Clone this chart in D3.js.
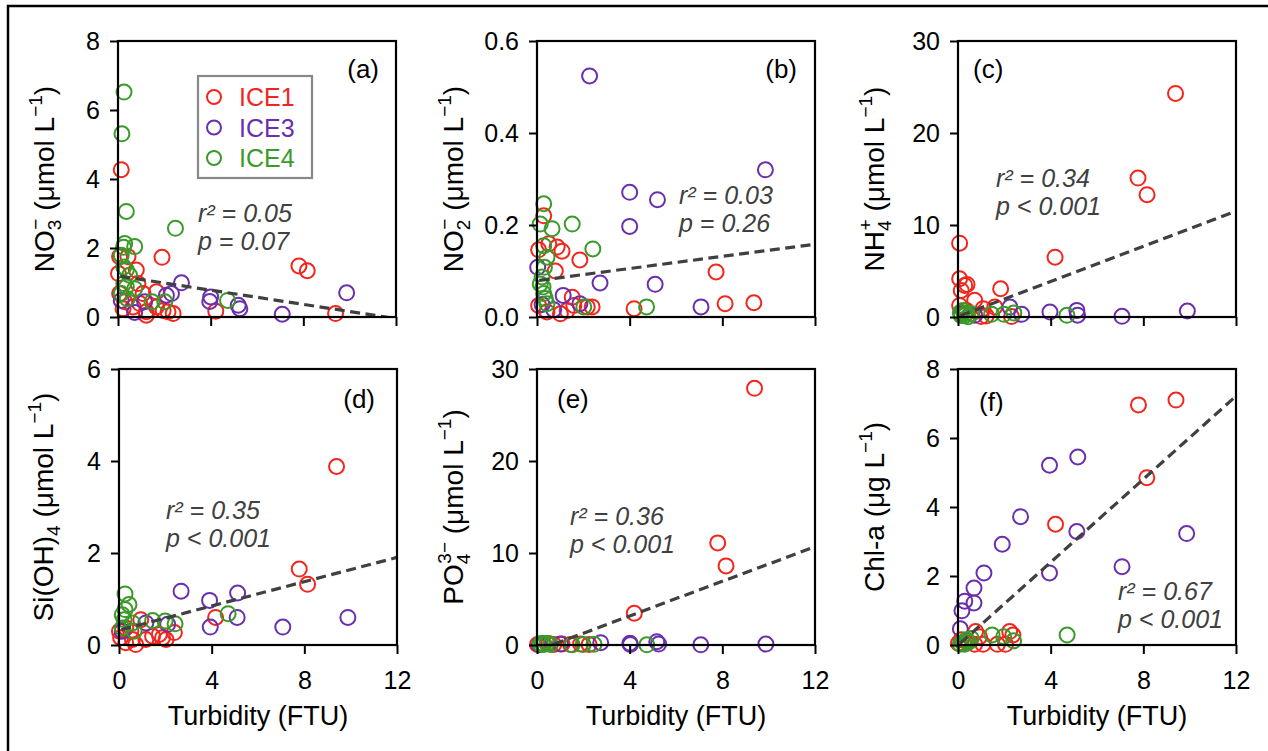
<!DOCTYPE html>
<html><head><meta charset="utf-8">
<script src="https://cdn.jsdelivr.net/npm/d3@7"></script>
<style>
html,body{margin:0;padding:0;background:#fff;}
svg{display:block;font-family:"Liberation Sans",Arial,sans-serif;}
</style></head>
<body><svg id="chart" width="1268" height="751"></svg>
<script>
// ---------- data ----------
const seriesNames = ["ICE1", "ICE3", "ICE4"];
const seriesColors = ["#f2261c", "#6a2fae", "#3a9a2a"];
const panelLetters = ["(a)", "(b)", "(c)", "(d)", "(e)", "(f)"];
const xTicks = [0, 4, 8, 12];

const yTicksA = [0, 2, 4, 6, 8];
const yTicksB = [0, 0.2, 0.4, 0.6];
const yTicksC = [0, 10, 20, 30];
const yTicksD = [0, 2, 4, 6];
const yTicksE = [0, 10, 20, 30];
const yTicksF = [0, 2, 4, 6, 8];

const statsR2 = ["0.05", "0.03", "0.34", "0.35", "0.36", "0.67"];
const statsP = ["= 0.07", "= 0.26", "< 0.001", "< 0.001", "< 0.001", "< 0.001"];
// regression [intercept, slope]
const fitA = [1.19, -0.103];
const fitB = [0.079, 0.0066];
const fitC = [0.05, 0.955];
const fitD = [0.32, 0.132];
const fitE = [-0.6, 0.94];
const fitF = [-0.01, 0.602];

// (a) NO3-
const a_ICE1 = [[0.14,4.27],[1.90,1.73],[7.81,1.48],[8.17,1.34],[9.39,0.10],[4.22,0.17],[2.38,0.10],[2.16,0.15],[0.07,1.75],[0.43,1.75],[0.79,1.36],[0.02,1.26],[0.86,0.97],[0.07,0.68],[1.08,0.68],[1.66,0.73],[0.29,0.44],[0.94,0.39],[1.22,0.15],[1.66,0.29],[0.22,0.24],[1.22,0.05],[1.95,0.19],[0.65,0.29]];
const a_ICE3 = [[9.87,0.70],[2.74,0.99],[3.96,0.45],[4.00,0.58],[5.19,0.34],[5.26,0.24],[7.09,0.08],[2.31,0.68],[0.72,0.13],[0.14,0.48],[1.15,0.44],[2.09,0.63]];
const a_ICE4 = [[0.26,6.52],[0.17,5.31],[0.36,3.06],[2.48,2.57],[0.29,2.13],[0.24,2.02],[0.72,2.04],[0.14,1.79],[0.25,1.45],[0.36,1.36],[0.50,1.21],[0.25,0.97],[0.36,0.87],[0.72,0.82],[0.14,0.68],[0.40,0.53],[1.47,0.44],[2.02,0.44],[4.73,0.48]];

// (b) NO2-
const b_ICE1 = [[7.73,0.098],[8.12,0.029],[9.36,0.031],[4.19,0.018],[1.85,0.124],[0.29,0.220],[0.07,0.146],[0.87,0.152],[1.08,0.143],[0.79,0.100],[0.51,0.159],[0.07,0.025],[1.01,0.007],[1.30,0.014],[1.59,0.025],[2.17,0.022],[2.38,0.022],[0.43,0.011],[1.52,0.043]];
const b_ICE3 = [[2.27,0.524],[4.00,0.271],[4.00,0.197],[5.20,0.255],[9.86,0.320],[2.72,0.074],[5.10,0.071],[7.08,0.022],[1.13,0.047],[0.03,0.108],[0.22,0.027],[0.72,0.016],[1.85,0.029]];
const b_ICE4 = [[0.29,0.246],[0.14,0.202],[0.65,0.192],[1.52,0.202],[2.41,0.148],[0.29,0.155],[0.43,0.130],[0.32,0.108],[0.22,0.087],[0.14,0.072],[0.29,0.051],[0.36,0.040],[0.43,0.029],[2.02,0.022],[4.73,0.022],[0.26,0.065]];

// (c) NH4+
const c_ICE1 = [[9.39,24.3],[7.77,15.1],[8.16,13.3],[4.19,6.5],[1.84,3.07],[0.07,8.02],[0.07,4.16],[0.29,3.43],[0.39,3.54],[0.14,2.89],[0.72,1.81],[0.07,1.26],[0.36,0.72],[1.08,0.90],[1.59,1.08],[2.31,0.05],[1.00,0.05],[1.22,0.10]];
const c_ICE3 = [[9.90,0.65],[7.08,0.07],[5.13,0.72],[5.16,0.20],[3.97,0.54],[2.75,0.29],[2.24,1.08],[0.72,0.18],[0.14,0.36]];
const c_ICE4 = [[4.70,0.18],[1.45,0.29],[1.98,0.29],[2.41,0.43],[0.14,0.15],[0.29,0.15],[0.43,0.02],[0.58,0.36],[0.22,0.70],[0.36,0.40],[0.10,0.50]];

// (d) Si(OH)4
const d_ICE1 = [[9.39,3.88],[7.78,1.65],[8.14,1.32],[4.17,0.60],[0.02,0.30],[0.07,0.16],[0.29,0.05],[0.72,0.01],[0.94,0.55],[1.45,0.19],[1.74,0.23],[2.03,0.12],[2.39,0.27],[1.88,0.16],[1.16,0.12],[0.29,0.37],[0.51,0.30],[0.58,0.12]];
const d_ICE3 = [[9.88,0.60],[7.07,0.39],[5.12,1.13],[5.10,0.60],[3.91,0.97],[3.94,0.39],[2.68,1.17],[2.10,0.45],[1.16,0.48],[0.14,0.30]];
const d_ICE4 = [[0.26,1.11],[0.43,0.88],[0.26,0.77],[0.14,0.66],[0.22,0.55],[0.58,0.48],[0.14,0.37],[0.65,0.30],[1.45,0.53],[1.99,0.52],[2.42,0.46],[4.71,0.68]];

// (e) PO4 3-
const e_ICE1 = [[9.39,27.9],[7.80,11.1],[8.16,8.6],[4.20,3.45],[0.02,0.05],[0.29,0.10],[0.72,0.05],[1.08,0.10],[1.45,0.05],[1.88,0.10],[2.25,0.05],[0.50,0.15]];
const e_ICE3 = [[4.01,0.20],[4.03,0.05],[5.17,0.36],[5.25,0.10],[7.07,0.02],[9.88,0.10],[2.75,0.25],[1.01,0.10],[0.10,0.02]];
const e_ICE4 = [[4.74,0.02],[1.52,0.02],[1.99,0.05],[2.46,0.07],[0.14,0.10],[0.29,0.05],[0.43,0.15],[0.58,0.05],[0.22,0.20]];

// (f) Chl-a
const f_ICE1 = [[7.79,6.96],[9.41,7.10],[8.15,4.85],[4.21,3.50],[0.76,0.39],[0.93,0.24],[0.72,0.02],[1.08,0.02],[1.70,0.02],[2.05,0.02],[2.23,0.39],[2.37,0.29],[0.14,0.15],[0.02,0.05],[0.40,0.10]];
const f_ICE3 = [[3.95,5.21],[5.17,5.45],[2.70,3.72],[1.91,2.92],[1.12,2.09],[0.69,1.65],[0.69,1.22],[0.29,1.27],[0.17,0.99],[0.10,0.47],[3.95,2.09],[5.13,3.29],[7.08,2.27],[9.87,3.23]];
const f_ICE4 = [[4.71,0.29],[1.47,0.29],[1.97,0.24],[2.40,0.12],[0.57,0.19],[0.36,0.15],[0.22,0.05],[0.10,0.02],[0.29,0.02],[0.45,0.08]];

// ---------- layout ----------
const W = 278, H = 276;
const panels = [
  {left:118, top:41, data:[a_ICE1,a_ICE3,a_ICE4], yt:yTicksA, ymax:8, fmt:d3.format("d"), fit:fitA, ylab:"a", tx:198, ty:222, lx:379, ly:78, lanchor:"end", yoff:64, xlab:false},
  {left:537, top:41, data:[b_ICE1,b_ICE3,b_ICE4], yt:yTicksB, ymax:0.6, fmt:d3.format(".1f"), fit:fitB, ylab:"b", tx:679, ty:204, lx:797, ly:78, lanchor:"end", yoff:74, xlab:false},
  {left:958, top:41, data:[c_ICE1,c_ICE3,c_ICE4], yt:yTicksC, ymax:30, fmt:d3.format("d"), fit:fitC, ylab:"c", tx:996, ty:187, lx:973, ly:78, lanchor:"start", yoff:74, xlab:false},
  {left:119, top:369, data:[d_ICE1,d_ICE3,d_ICE4], yt:yTicksD, ymax:6, fmt:d3.format("d"), fit:fitD, ylab:"d", tx:166, ty:519, lx:375, ly:408, lanchor:"end", yoff:66, xlab:true},
  {left:537, top:369, data:[e_ICE1,e_ICE3,e_ICE4], yt:yTicksE, ymax:30, fmt:d3.format("d"), fit:fitE, ylab:"e", tx:570, ty:525, lx:557, ly:408, lanchor:"start", yoff:74, xlab:true},
  {left:958, top:369, data:[f_ICE1,f_ICE3,f_ICE4], yt:yTicksF, ymax:8, fmt:d3.format("d"), fit:fitF, ylab:"f", tx:1118, ty:600, lx:979, ly:411, lanchor:"start", yoff:74, xlab:true}
];

const svg = d3.select("#chart");
// outer frame (clipped by the viewport at right/bottom)
svg.append("rect").attr("x", 8).attr("y", 6).attr("width", 1300).attr("height", 800)
  .attr("fill", "none").attr("stroke", "#000").attr("stroke-width", 2.5);

function yTitle(g, key) {
  const t = g.append("text").attr("font-size", 28).attr("fill", "#000").attr("text-anchor", "middle");
  const sub = (s) => t.append("tspan").attr("font-size", 19).attr("dy", 7).text(s);
  const back = (s, dx, dy) => t.append("tspan").attr("font-size", 19).attr("dx", dx).attr("dy", dy).text(s);
  const norm = (s, dy) => t.append("tspan").attr("dy", dy || 0).text(s);
  const unitsMol = (dy) => { norm(" (μmol L", dy); t.append("tspan").attr("font-size", 19).attr("dy", -12).text("−1"); norm(")", 12); };
  if (key === "a") { norm("NO"); sub("3"); back("−", -10, -19); unitsMol(12); }
  if (key === "b") { norm("NO"); sub("2"); back("−", -10, -19); unitsMol(12); }
  if (key === "c") { norm("NH"); sub("4"); back("+", -10, -19); unitsMol(12); }
  if (key === "d") { norm("Si(OH)"); sub("4"); unitsMol(-7); }
  if (key === "e") { norm("PO"); sub("4"); back("3−", -10, -19); unitsMol(12); }
  if (key === "f") { norm("Chl-a (μg L"); t.append("tspan").attr("font-size", 19).attr("dy", -12).text("−1"); norm(")", 12); }
  return t;
}

panels.forEach((p, i) => {
  const x = d3.scaleLinear().domain([0, 12]).range([p.left, p.left + W]);
  const y = d3.scaleLinear().domain([0, p.ymax]).range([p.top + H, p.top]);
  const g = svg.append("g");

  const clipId = "clip" + i;
  svg.append("clipPath").attr("id", clipId).append("rect")
    .attr("x", p.left).attr("y", p.top).attr("width", W).attr("height", H);

  // points
  p.data.forEach((arr, s) => {
    g.append("g").selectAll("circle").data(arr).join("circle")
      .attr("cx", d => x(d[0])).attr("cy", d => y(d[1])).attr("r", 7.5)
      .attr("fill", "none").attr("stroke", seriesColors[s]).attr("stroke-width", 2);
  });

  // regression line
  const xs = [0.1, 12];
  g.append("line").attr("clip-path", `url(#${clipId})`)
    .attr("x1", x(xs[0])).attr("y1", y(p.fit[0] + p.fit[1] * xs[0]))
    .attr("x2", x(xs[1])).attr("y2", y(p.fit[0] + p.fit[1] * xs[1]))
    .attr("stroke", "#404040").attr("stroke-width", 3.2).attr("stroke-dasharray", "10,5.5");

  // axes
  const yAxis = d3.axisLeft(y).tickValues(p.yt).tickFormat(p.fmt).tickSize(8).tickPadding(10).tickSizeOuter(0);
  const ya = g.append("g").attr("transform", `translate(${p.left},0)`).call(yAxis);
  const xAxis = d3.axisBottom(x).tickValues(xTicks).tickSize(9).tickPadding(17).tickSizeOuter(0)
    .tickFormat(p.xlab ? d3.format("d") : () => "");
  const xa = g.append("g").attr("transform", `translate(0,${p.top + H})`).call(xAxis);
  [ya, xa].forEach(a => {
    a.selectAll("path.domain").remove();
    a.selectAll(".tick line").attr("stroke", "#000").attr("stroke-width", 2);
    a.selectAll(".tick text").attr("font-size", 25).attr("fill", "#000")
      .attr("font-family", '"Liberation Sans", Arial, sans-serif');
  });

  // frame
  g.append("rect").attr("x", p.left).attr("y", p.top).attr("width", W).attr("height", H)
    .attr("fill", "none").attr("stroke", "#000").attr("stroke-width", 2.2);

  // panel letter
  g.append("text").attr("x", p.lx).attr("y", p.ly).attr("text-anchor", p.lanchor)
    .attr("font-size", 26).attr("fill", "#000").text(panelLetters[i]);

  // stats
  const st = g.append("g").attr("fill", "#404040").attr("font-size", 25).attr("font-style", "italic");
  st.append("text").attr("x", p.tx).attr("y", p.ty).text("r² = " + statsR2[i]);
  st.append("text").attr("x", p.tx).attr("y", p.ty + 28).text("p " + statsP[i]);

  // y title
  const yt = yTitle(g, p.ylab);
  yt.attr("transform", `translate(${p.left - p.yoff},${p.top + H / 2}) rotate(-90)`);

  // x title
  if (p.xlab) {
    g.append("text").attr("x", p.left + W / 2).attr("y", p.top + H + 80).attr("text-anchor", "middle")
      .attr("font-size", 27).attr("fill", "#000").text("Turbidity (FTU)");
  }
});

// legend in panel (a)
const lg = svg.append("g");
lg.append("rect").attr("x", 198).attr("y", 76).attr("width", 114).attr("height", 102)
  .attr("fill", "#fff").attr("stroke", "#888").attr("stroke-width", 2.2);
seriesNames.forEach((n, s) => {
  const cy = 97 + s * 30.5;
  lg.append("circle").attr("cx", 214).attr("cy", cy).attr("r", 7)
    .attr("fill", "none").attr("stroke", seriesColors[s]).attr("stroke-width", 2);
  lg.append("text").attr("x", 239).attr("y", cy).attr("dy", "0.36em").attr("font-size", 25)
    .attr("fill", seriesColors[s]).text(n);
});
</script></body></html>
